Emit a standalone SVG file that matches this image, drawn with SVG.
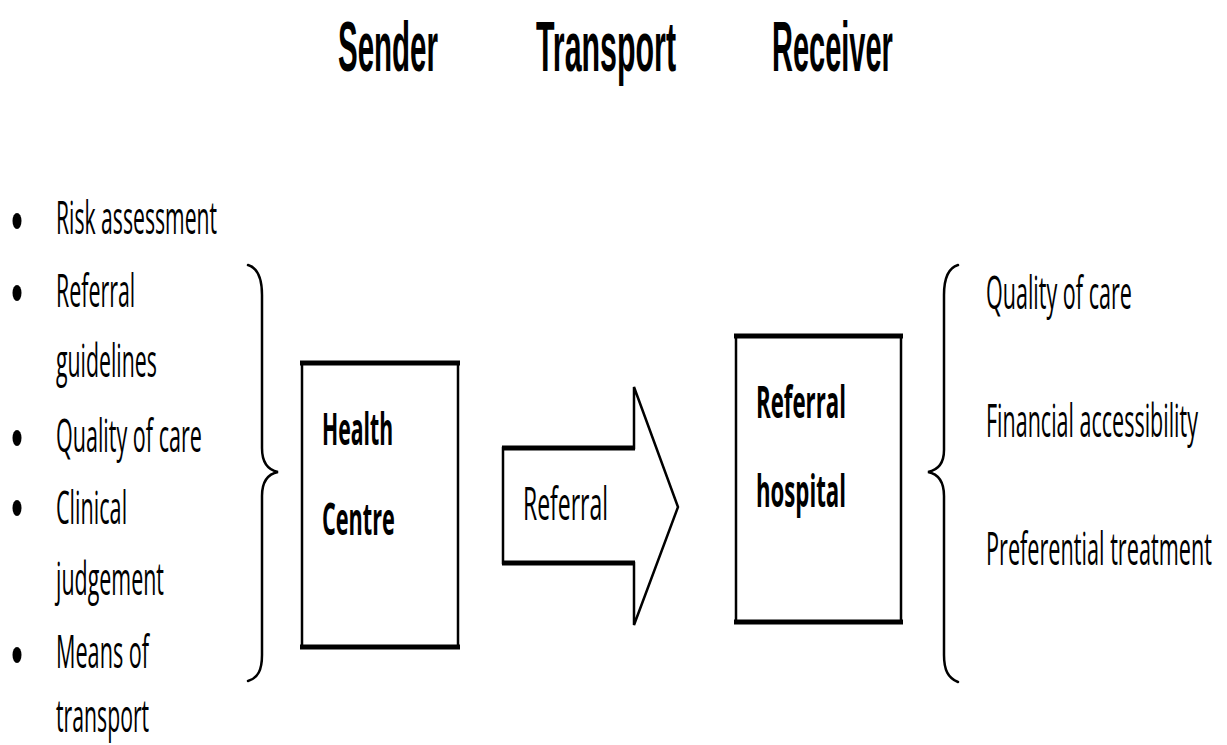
<svg xmlns="http://www.w3.org/2000/svg" width="1227" height="745" viewBox="0 0 1227 745">
<style>
  text { font-family: "Open Sans", "Noto Sans", "Liberation Sans", sans-serif; fill: #000; }
  .title { font-family: "Liberation Sans", Arial, sans-serif; font-size: 71px; font-weight: bold; }
  .item { font-size: 45px; }
  .lbl { font-size: 45px; font-weight: bold; }
  .box { fill: #fff; stroke: #000; stroke-width: 2.5; }
  .edge { stroke: #000; stroke-width: 5; }
  .brace { fill: none; stroke: #000; stroke-width: 2.5; stroke-linecap: round; }
</style>
<rect width="1227" height="745" fill="#fff"/>

<g id="titles">
  <text class="title" transform="translate(338,71) scale(0.4,1)" textLength="250" lengthAdjust="spacingAndGlyphs">Sender</text>
  <text class="title" transform="translate(536,71) scale(0.4,1)" textLength="350" lengthAdjust="spacingAndGlyphs">Transport</text>
  <text class="title" transform="translate(772,71) scale(0.4,1)" textLength="302" lengthAdjust="spacingAndGlyphs">Receiver</text>
</g>

<g id="sender-factors">
  <ellipse cx="17" cy="221" rx="4.5" ry="8"/>
  <ellipse cx="17" cy="293" rx="4.5" ry="8"/>
  <ellipse cx="17" cy="438" rx="4.5" ry="8"/>
  <ellipse cx="17" cy="508" rx="4.5" ry="8"/>
  <ellipse cx="17" cy="655" rx="4.5" ry="8"/>
  <text class="item" transform="translate(56,234) scale(0.45,1)" textLength="358" lengthAdjust="spacingAndGlyphs">Risk assessment</text>
  <text class="item" transform="translate(56,307) scale(0.45,1)" textLength="176" lengthAdjust="spacingAndGlyphs">Referral</text>
  <text class="item" transform="translate(56,377) scale(0.45,1)" textLength="224" lengthAdjust="spacingAndGlyphs">guidelines</text>
  <text class="item" transform="translate(56,452) scale(0.45,1)" textLength="324" lengthAdjust="spacingAndGlyphs">Quality of care</text>
  <text class="item" transform="translate(56,524) scale(0.45,1)" textLength="158" lengthAdjust="spacingAndGlyphs">Clinical</text>
  <text class="item" transform="translate(56,595) scale(0.45,1)" textLength="240" lengthAdjust="spacingAndGlyphs">judgement</text>
  <text class="item" transform="translate(56,668) scale(0.45,1)" textLength="207" lengthAdjust="spacingAndGlyphs">Means of</text>
  <text class="item" transform="translate(56,732) scale(0.45,1)" textLength="207" lengthAdjust="spacingAndGlyphs">transport</text>
</g>

<g id="receiver-factors">
  <text class="item" transform="translate(986,309) scale(0.45,1)" textLength="324" lengthAdjust="spacingAndGlyphs">Quality of care</text>
  <text class="item" transform="translate(986,437) scale(0.45,1)" textLength="471" lengthAdjust="spacingAndGlyphs">Financial accessibility</text>
  <text class="item" transform="translate(986,565) scale(0.45,1)" textLength="502" lengthAdjust="spacingAndGlyphs">Preferential treatment</text>
</g>

<g id="health-centre">
  <rect class="box" x="302" y="363" width="156" height="284"/>
  <line class="edge" x1="300" y1="363" x2="460" y2="363"/>
  <line class="edge" x1="300" y1="647" x2="460" y2="647"/>
  <text class="lbl" transform="translate(322,445) scale(0.45,1)" textLength="158" lengthAdjust="spacingAndGlyphs">Health</text>
  <text class="lbl" transform="translate(322,535) scale(0.45,1)" textLength="162" lengthAdjust="spacingAndGlyphs">Centre</text>
</g>

<g id="referral-hospital">
  <rect class="box" x="736" y="336" width="165" height="286"/>
  <line class="edge" x1="734" y1="336" x2="903" y2="336"/>
  <line class="edge" x1="734" y1="622" x2="903" y2="622"/>
  <text class="lbl" transform="translate(756,418) scale(0.45,1)" textLength="200" lengthAdjust="spacingAndGlyphs">Referral</text>
  <text class="lbl" transform="translate(756,507) scale(0.45,1)" textLength="200" lengthAdjust="spacingAndGlyphs">hospital</text>
</g>

<g id="connectors">
  <g id="referral-arrow">
    <polygon points="503,448 634,448 634,387 678,507 634,625 634,563 503,563" fill="#fff" stroke="#000" stroke-width="2.5" stroke-linejoin="miter"/>
    <line class="edge" x1="502" y1="448" x2="635" y2="448"/>
    <line class="edge" x1="502" y1="563" x2="635" y2="563"/>
    <text class="item" transform="translate(523,520) scale(0.45,1)" textLength="189" lengthAdjust="spacingAndGlyphs">Referral</text>
  </g>
  <path class="brace" d="M248,265 C258,268 262,278 262,295 L262,448 C262,462 268,470 278,472 C268,474 262,482 262,496 L262,655 C262,670 258,678 248,681"/>
  <path class="brace" d="M958,265 C948,268 944,278 944,295 L944,450 C944,464 938,470 928,472 C938,474 944,482 944,496 L944,655 C944,670 948,678 958,682"/>
</g>
</svg>
